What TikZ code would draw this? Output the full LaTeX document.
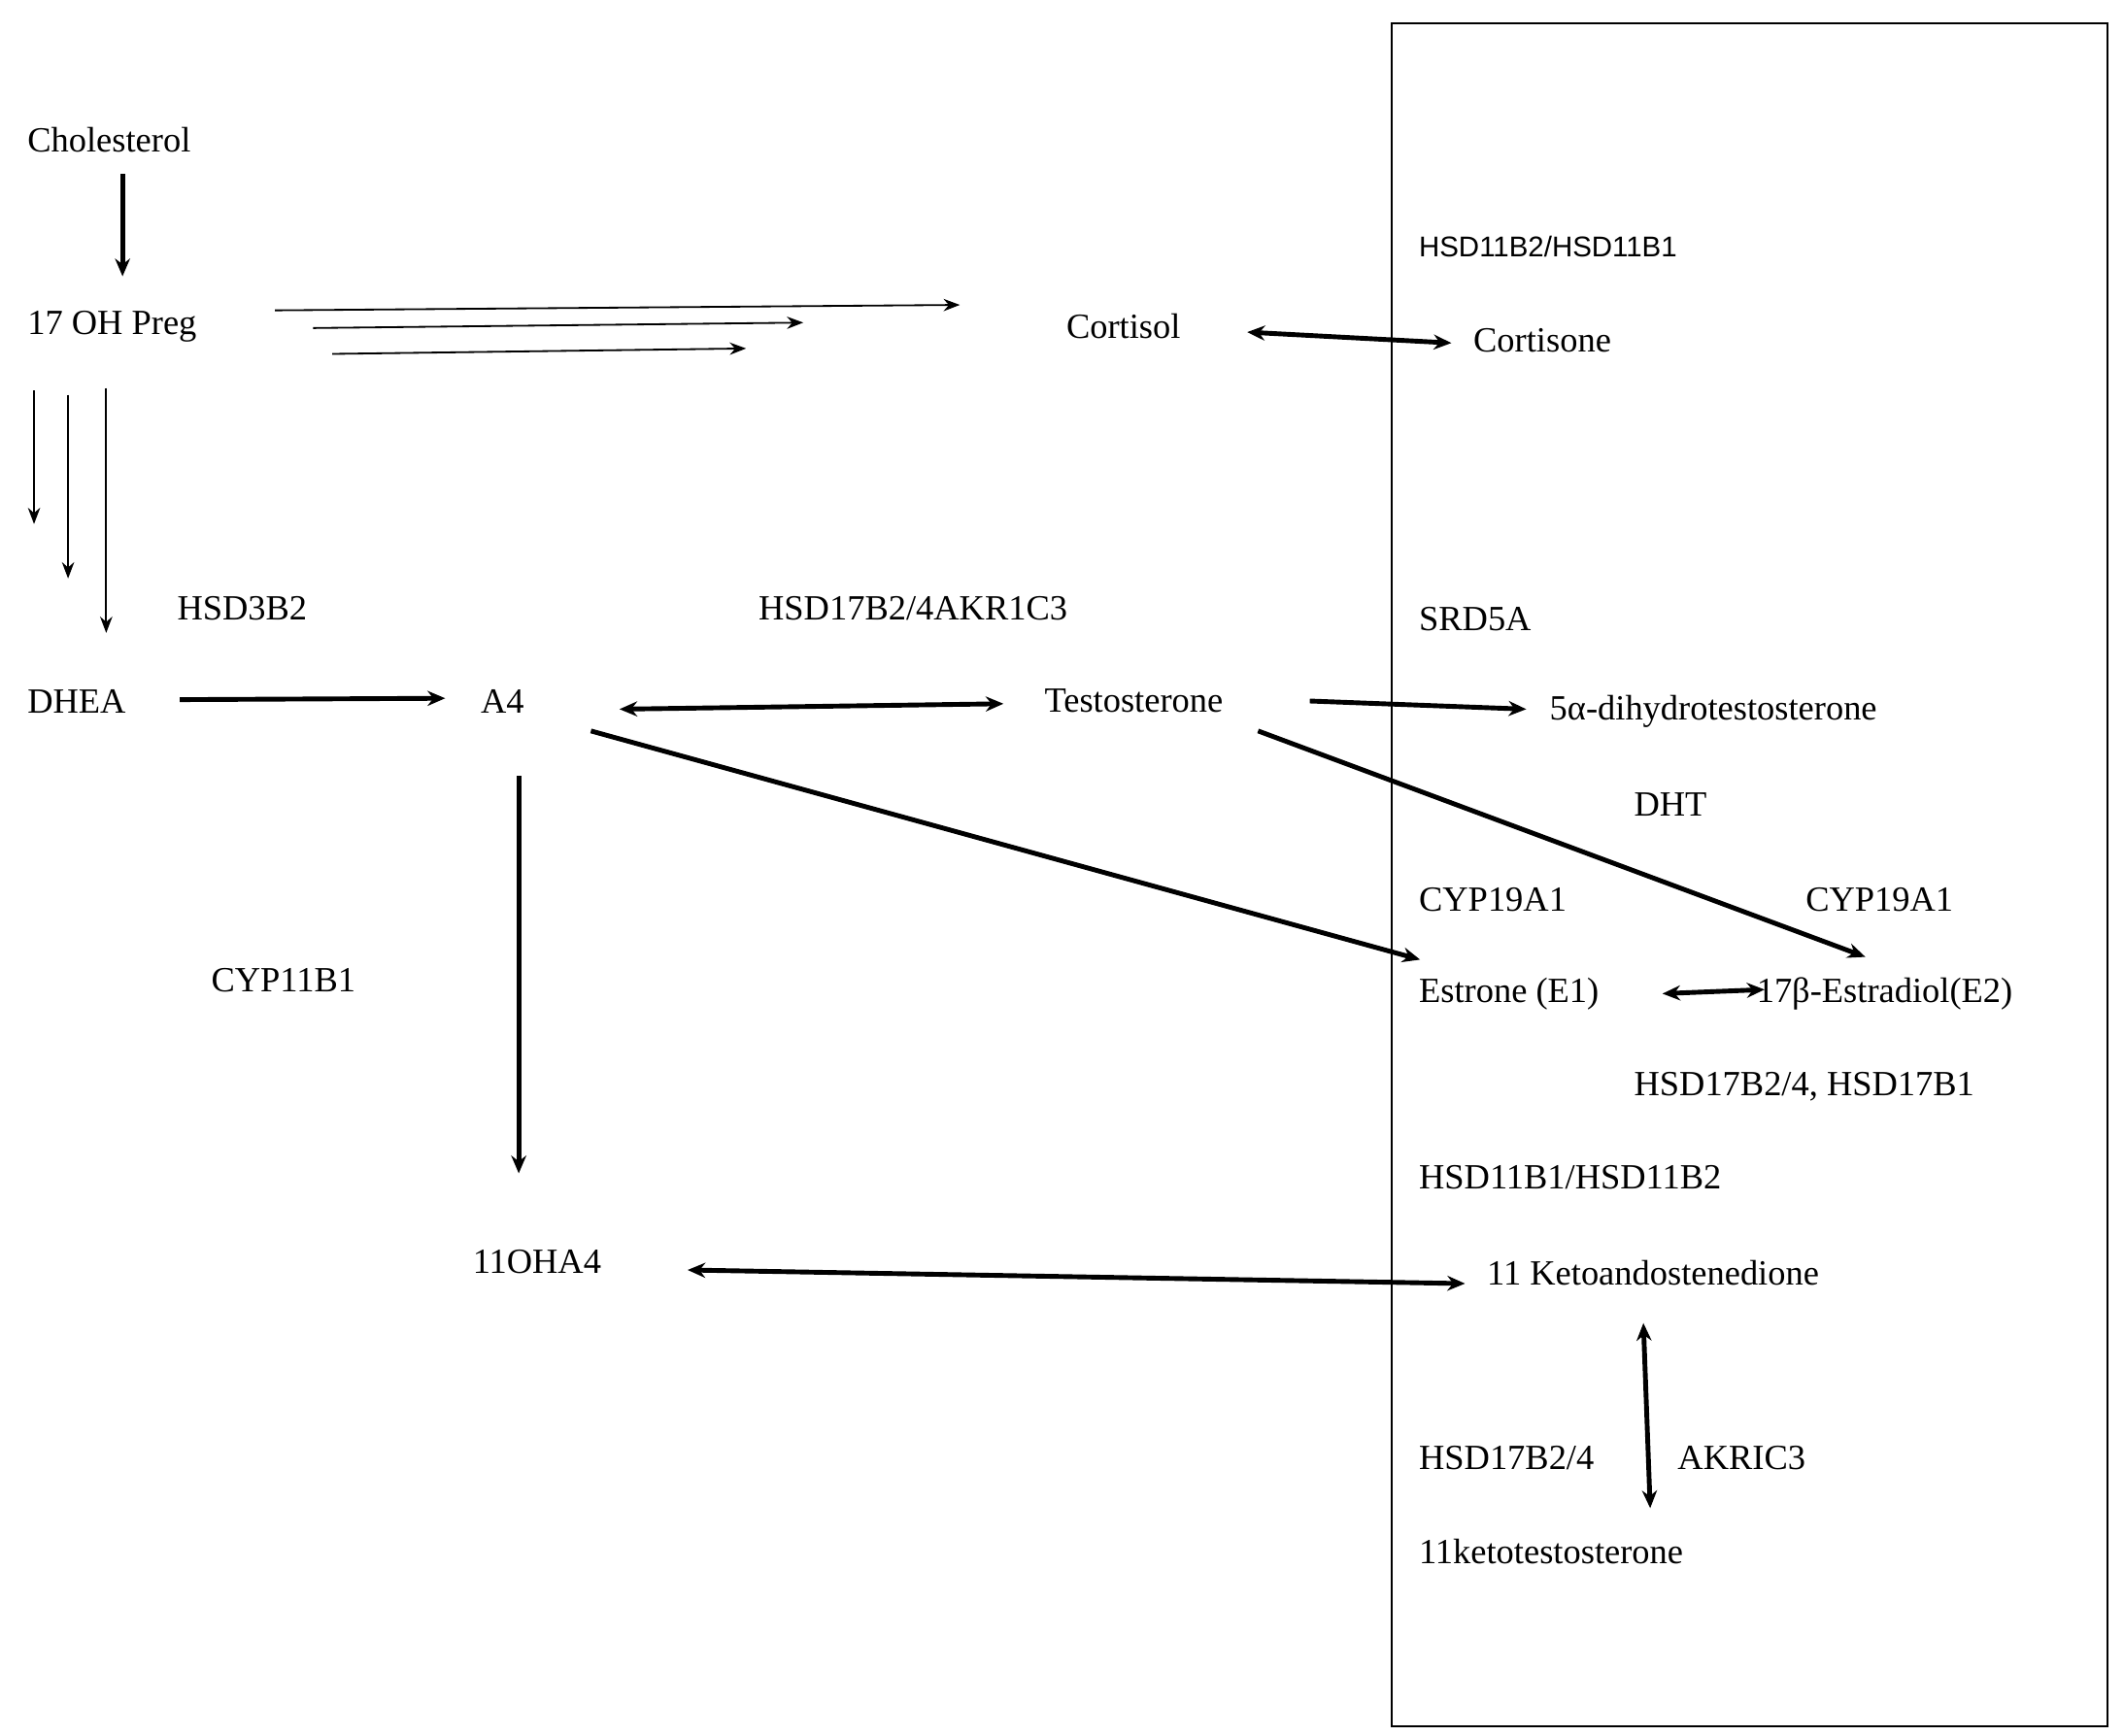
\documentclass[tikz,border=0pt]{standalone}
\usepackage{fontspec}
\setmainfont{Liberation Serif}
\newfontfamily\labsans{Liberation Sans}
\usetikzlibrary{arrows.meta}
\begin{document}
\begin{tikzpicture}[x=1pt,y=-1pt,
  t/.style={anchor=west,inner sep=0pt,font=\fontsize{26}{30}\selectfont},
  thin/.style={-{Stealth[length=12pt,width=9pt]},line width=1.3pt},
  thick/.style={-{Stealth[length=13pt,width=11pt]},line width=3.5pt},
  bi/.style={{Stealth[length=13pt,width=11pt]}-{Stealth[length=13pt,width=11pt]},line width=3.5pt}]
\useasboundingbox (0,0) rectangle (1560,1275);
\draw[line width=1.3pt] (1022,17) rectangle (1548,1268);
\node[t] (chol) at (20,103) {Cholesterol};
\node[t] (preg) at (20,240) {17 OH Preg};
\node[t] (cortisol) at (783,240) {Cortisol};
\node[t] (cortisone) at (1082,250) {Cortisone};
\node[t,font=\labsans\fontsize{21}{25}\selectfont] (e1) at (1042,181) {HSD11B2/HSD11B1};
\node[t] (e2) at (130,447) {HSD3B2};
\node[t] (e3) at (557,447) {HSD17B2/4AKR1C3};
\node[t] (e4) at (1042,455) {SRD5A};
\node[t] (dhea) at (20,515) {DHEA};
\node[t] (a4) at (353,515) {A4};
\node[t] (testo) at (767,515) {Testosterone};
\node[t] (dht5) at (1138,523) {5α-dihydrotestosterone};
\node[t] (dht) at (1200,591) {DHT};
\node[t] (e5) at (1042,661) {CYP19A1};
\node[t] (e6) at (1326,661) {CYP19A1};
\node[t] (e7) at (155,720) {CYP11B1};
\node[t] (estrone) at (1042,730) {Estrone (E1)};
\node[t] (estradiol) at (1290,730) {17β-Estradiol(E2)};
\node[t] (e8) at (1200,798) {HSD17B2/4, HSD17B1};
\node[t] (e9) at (1042,865) {HSD11B1/HSD11B2};
\node[t] (ohA4) at (347,927) {11OHA4};
\node[t] (keto) at (1092,935) {11 Ketoandostenedione};
\node[t] (e10) at (1042,1071) {HSD17B2/4};
\node[t] (e11) at (1232,1071) {AKRIC3};
\node[t] (kt) at (1042,1140) {11ketotestosterone};
% arrows
\coordinate (c1) at (90,128); \coordinate (c2) at (90,203);
\draw[thick] (c1) -- (c2);
\coordinate (p1a) at (202,228); \coordinate (p1b) at (705,224);
\coordinate (p2a) at (230,241); \coordinate (p2b) at (590,237);
\coordinate (p3a) at (244,260); \coordinate (p3b) at (548,256);
\draw[thin] (p1a) -- (p1b);
\draw[thin] (p2a) -- (p2b);
\draw[thin] (p3a) -- (p3b);
\coordinate (d1a) at (25,287); \coordinate (d1b) at (25,385);
\coordinate (d2a) at (50,290); \coordinate (d2b) at (50,425);
\coordinate (d3a) at (78,285); \coordinate (d3b) at (78,465);
\draw[thin] (d1a) -- (d1b);
\draw[thin] (d2a) -- (d2b);
\draw[thin] (d3a) -- (d3b);
\coordinate (k1) at (916,244); \coordinate (k2) at (1066,252);
\draw[bi] (k1) -- (k2);
\coordinate (h1) at (132,514); \coordinate (h2) at (327,513);
\draw[thick] (h1) -- (h2);
\coordinate (a1) at (455,521); \coordinate (a2) at (737,517);
\draw[bi] (a1) -- (a2);
\coordinate (s1) at (962,515); \coordinate (s2) at (1121,521);
\draw[thick] (s1) -- (s2);
\coordinate (r1) at (434,537); \coordinate (r2) at (1043,705);
\draw[thick] (r1) -- (r2);
\coordinate (q1) at (924,537); \coordinate (q2) at (1370,703);
\draw[thick] (q1) -- (q2);
\coordinate (x1) at (1221,730); \coordinate (x2) at (1296,727);
\draw[bi] (x1) -- (x2);
\coordinate (v1) at (381,570); \coordinate (v2) at (381,862);
\draw[thick] (v1) -- (v2);
\coordinate (o1) at (505,933); \coordinate (o2) at (1076,943);
\draw[bi] (o1) -- (o2);
\coordinate (m1) at (1207,972); \coordinate (m2) at (1212,1108);
\draw[bi] (m1) -- (m2);
\end{tikzpicture}
\end{document}
